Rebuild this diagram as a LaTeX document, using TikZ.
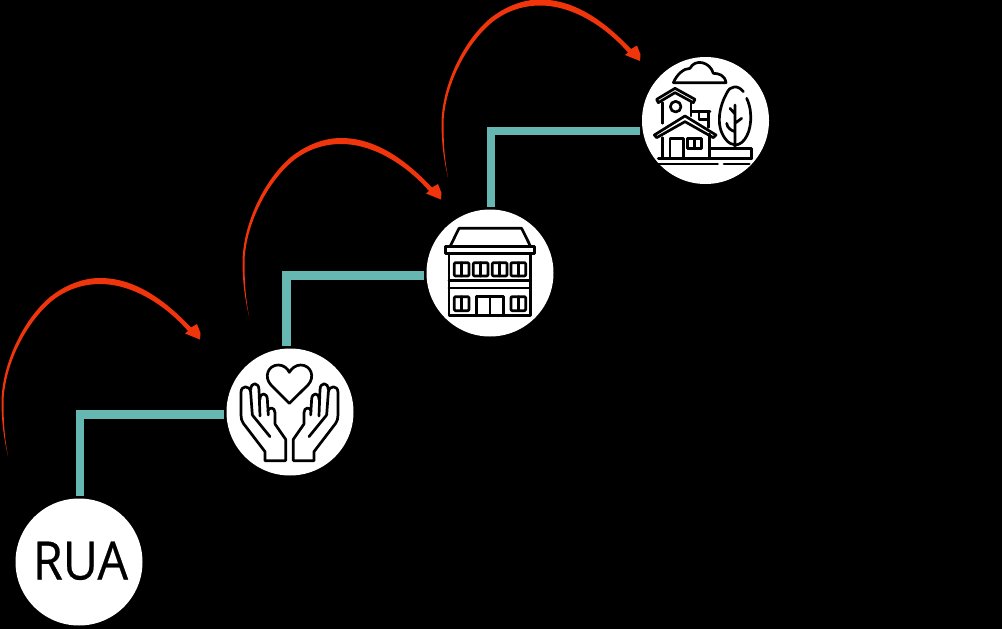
\documentclass[tikz,border=0pt]{standalone}
\usepackage{fontspec}
\setmainfont{Open Sans}
\newfontfamily\ruafont[FakeBold=0.5]{Open Sans}
\definecolor{teal1}{HTML}{66B7B2}
\definecolor{red1}{HTML}{F0340C}
\tikzset{
  stage/.style={circle,fill=white,minimum size=127pt,inner sep=0pt,outer sep=2.5pt,text=black},
  link/.style={draw=teal1,line width=8.5pt},
  icon/.style={draw=black,line width=2.7pt,line join=round,line cap=round,fill=none},
  redarc/.pic={
    \fill[red1] (8,456) .. controls (3,435) and (1.5,418) .. (1.5,400)
      .. controls (3,360) and (25,318) .. (50,297)
      .. controls (65,285) and (83,278) .. (100,278)
      .. controls (135,278) and (165,300) .. (191,327.5)
      -- (197,324) -- (200.5,333) -- (200,339.5) -- (185,333.5) -- (188,331)
      .. controls (168,308) and (135,284) .. (100,284)
      .. controls (84,284) and (67,289) .. (52.5,300.5)
      .. controls (28,320.5) and (5.5,361) .. (3.5,400)
      .. controls (3.5,418) and (4,435) .. (8,456) -- cycle;
  }
}
\begin{document}
\begin{tikzpicture}[x=1pt,y=-1pt]
\useasboundingbox (0,0) rectangle (1002,629);
\fill[black] (0,0) rectangle (1002,629);
\node[stage] (rua) at (79,562) {\hspace{3pt}\raisebox{3pt}{\scalebox{0.91}[1]{\ruafont\fontsize{53}{53}\selectfont RUA}}};
\node[stage] (hands) at (290,412) {};
\node[stage] (bldg) at (490,273) {};
\node[stage] (house) at (705.5,120.5) {};
\draw[link] (rua.89) |- (hands.182);
\draw[link] (hands.93) |- (bldg.182);
\draw[link] (bldg.89) |- (house.189);
\pic at (0,0) {redarc};
\pic at (241,-140) {redarc};
\pic at (440,-278.5) {redarc};
% hands
\begin{scope}[shift={(215,340)},x=0.3333pt,y=-0.3333pt]
  \begin{scope}[icon]
  \draw (223,190) -- (168,135) .. controls (145,110) and (160,75) .. (190,75) .. controls (205,75) and (218,85) .. (223,97) .. controls (230,85) and (242,75) .. (257,75) .. controls (287,75) and (302,110) .. (279,135) -- cycle;
  \draw (212,362) -- (150,362) -- (150,335) -- (85,250) .. controls (80,243) and (78,235) .. (78,225) -- (78,157) .. controls (78,135) and (105,135) .. (107,157) -- (112,225)
    (107,150) .. controls (107,125) and (132,125) .. (132,150) -- (135,228)
    (135,178) .. controls (135,155) and (157,158) .. (157,178) -- (160,225)
    (158,215) .. controls (160,200) and (180,200) .. (180,218) -- (180,252)
    (112,225) -- (165,290)
    (180,252) -- (212,298) -- (212,362);
  \draw (235,362) -- (297,362) -- (297,335) -- (362,250) .. controls (367,243) and (369,235) .. (369,225) -- (369,157) .. controls (369,135) and (342,135) .. (340,157) -- (335,225)
    (340,150) .. controls (340,125) and (315,125) .. (315,150) -- (312,228)
    (312,178) .. controls (312,155) and (290,158) .. (290,178) -- (287,225)
    (289,215) .. controls (287,200) and (267,200) .. (267,218) -- (267,252)
    (335,225) -- (282,290)
    (267,252) -- (235,298) -- (235,362);
  \end{scope}
\end{scope}
% building
\begin{scope}[shift={(415,200)},x=0.3333pt,y=-0.3333pt]
  \begin{scope}[icon]
  \draw (105,140) -- (132,85) -- (320,85) -- (347,140);
  \draw (92,140) rectangle (358,160);
  \draw (102,160) -- (102,347) -- (347,347) -- (347,160);
  \draw (102,242) -- (347,242) (102,264) -- (347,264);
  \foreach \x in {118,175,232,288}{
    \draw[rounded corners=1pt] (\x,188) rectangle ++(44,40);
    \draw (\x+22,188) -- (\x+22,228);
  }
  \foreach \x in {118,288}{
    \draw[rounded corners=1pt] (\x,290) rectangle ++(44,42);
    \draw (\x+22,290) -- (\x+22,332);
  }
  \draw (185,347) -- (185,290) -- (265,290) -- (265,347) (225,290) -- (225,347);
  \end{scope}
\end{scope}
% house
\begin{scope}[shift={(630,40)},x=0.3333pt,y=-0.3333pt]
  \begin{scope}[icon]
  \draw (130,128) -- (288,128) .. controls (285,105) and (265,100) .. (250,100) .. controls (240,65) and (195,55) .. (180,85) .. controls (160,85) and (140,105) .. (130,128);
  \draw (80,178) -- (135,145) -- (195,178) -- (190,188) -- (135,158) -- (85,188) -- cycle;
  \draw (97,188) -- (97,250) (183,188) -- (183,228);
  \draw (137,200) circle[radius=16];
  \draw (185,215) -- (240,215) (207,215) -- (207,238) -- (235,238) (235,215) -- (235,262);
  \draw (73,285) -- (165,228) -- (258,285) -- (250,293) -- (165,245) -- (80,293) -- cycle;
  \draw (97,293) -- (97,356) (238,282) -- (238,356);
  \draw (120,356) -- (120,296) -- (160,296) -- (160,356);
  \draw (172,296) rectangle (215,326) (193,296) -- (193,326);
  \draw (238,325) -- (365,325) -- (365,356);
  \draw (85,356) -- (365,356);
  \draw (84,372) -- (263,372) (282,372) -- (358,372);
  \draw (340,155) .. controls (325,135) and (300,135) .. (290,160) .. controls (270,195) and (255,255) .. (285,295) .. controls (295,310) and (305,313) .. (315,315) .. controls (345,315) and (365,270) .. (362,225) .. controls (362,205) and (355,185) .. (350,175);
  \draw (315,195) -- (315,325) (300,205) -- (315,222) (335,235) -- (315,250) (290,250) .. controls (292,265) and (305,272) .. (315,275);
  \end{scope}
\end{scope}
\end{tikzpicture}
\end{document}
